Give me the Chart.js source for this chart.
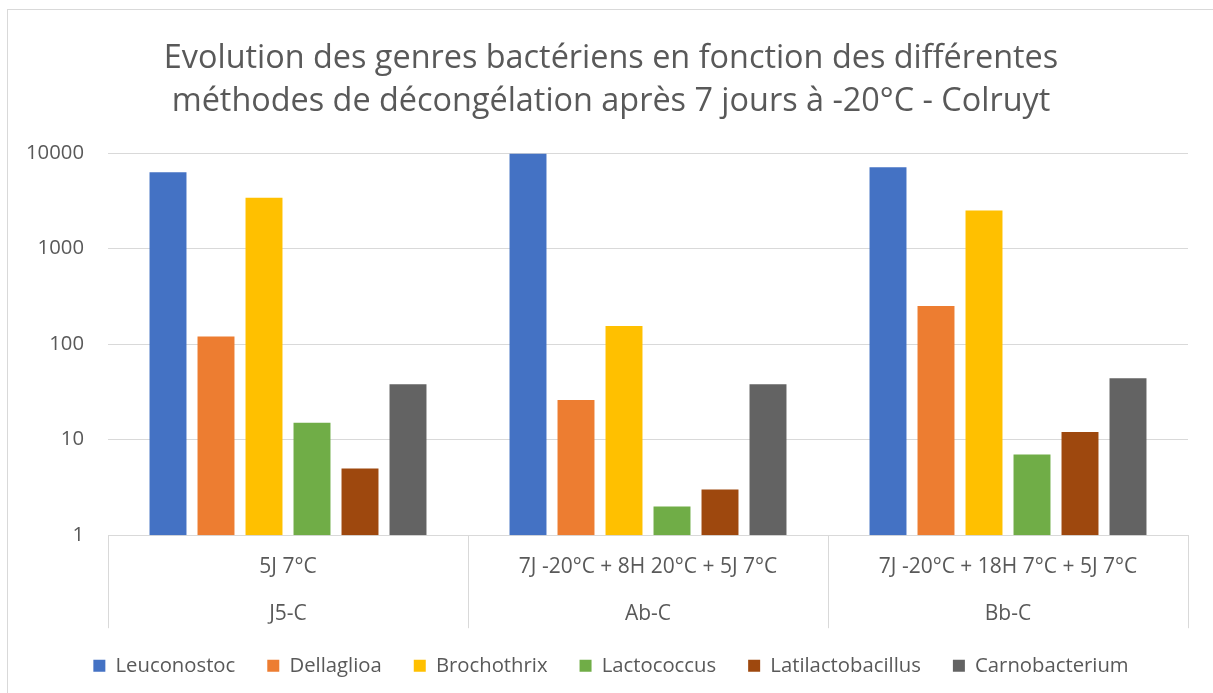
<!DOCTYPE html>
<html>
<head>
<meta charset="utf-8">
<script src="https://cdn.jsdelivr.net/npm/chart.js@4"></script>
<style>
  html, body { margin: 0; padding: 0; background: #fff; overflow: hidden; }
  #frame { position: absolute; left: 7px; top: 9px; width: 1300px; height: 800px;
           border-left: 1px solid #d9d9d9; border-top: 1px solid #d9d9d9; }
  #wrap { position: absolute; left: 0; top: 0; width: 1213px; height: 693px; }
</style>
</head>
<body>
<div id="frame"></div>
<div id="wrap"><canvas id="chart" width="1213" height="693"></canvas></div>
<script>
const TITLE = [
  "Evolution des genres bactériens en fonction des différentes",
  "méthodes de décongélation après 7 jours à -20°C - Colruyt",
];

const METHODS = ["5J 7°C", "7J -20°C + 8H 20°C + 5J 7°C", "7J -20°C + 18H 7°C + 5J 7°C"];
const SAMPLES = ["J5-C", "Ab-C", "Bb-C"];

const Y_TICKS = [1, 10, 100, 1000, 10000];

const GENUS_LABELS = ["Leuconostoc", "Dellaglioa", "Brochothrix", "Lactococcus", "Latilactobacillus", "Carnobacterium"];
const GENUS_COLORS = ["#4472c4", "#ed7d31", "#ffc000", "#70ad47", "#9e480e", "#636363"];

const leuconostoc       = [6300, 9800, 7100];
const dellaglioa        = [120, 26, 250];
const brochothrix       = [3400, 155, 2500];
const lactococcus       = [15, 2, 7];
const latilactobacillus = [5, 3, 12];
const carnobacterium    = [38, 38, 44];

const SERIES = [leuconostoc, dellaglioa, brochothrix, lactococcus, latilactobacillus, carnobacterium];

const TEXT = "#595959";
const GRID = "#d9d9d9";
const FONT = "'Open Sans', sans-serif";

const datasets = SERIES.map((data, i) => ({
  label: GENUS_LABELS[i],
  data,
  backgroundColor: GENUS_COLORS[i],
  borderWidth: 0,
  categoryPercentage: 0.8,
  barPercentage: 0.77,
}));

// two-level category label: method on top, sample name one row below.
// blank rows keep the label box tall enough (labels are clipped to the axis box)
const xLabels = METHODS.map((m, i) => [m, "", SAMPLES[i], "", "", ""]);

new Chart(document.getElementById("chart"), {
  type: "bar",
  data: { labels: xLabels, datasets },
  options: {
    responsive: false,
    animation: false,
    layout: { padding: { left: 17, right: 8, top: 0, bottom: 7 } },
    plugins: {
      title: {
        display: true,
        text: TITLE,
        color: TEXT,
        font: { family: FONT, size: 32.4, weight: "normal", lineHeight: 43 / 32.4 },
        padding: { top: 37, bottom: 30 },
      },
      legend: {
        position: "bottom",
        labels: {
          color: TEXT,
          font: { family: FONT, size: 20.3 },
          boxWidth: 12,
          boxHeight: 12,
          padding: 32,
        },
      },
      tooltip: { enabled: false },
    },
    scales: {
      x: {
        // long tick marks below the axis act as the group separators
        grid: { color: GRID, drawOnChartArea: false, offset: true, tickLength: 93 },
        border: { color: GRID },
        ticks: {
          color: TEXT,
          font: { family: FONT, size: 21, lineHeight: 23.5 / 21 },
          padding: -72.75,
          maxRotation: 0,
          autoSkip: false,
        },
      },
      y: {
        type: "logarithmic",
        min: 1,
        max: 10000,
        afterBuildTicks: axis => { axis.ticks = Y_TICKS.map(v => ({ value: v })); },
        afterFit: axis => { axis.width = 91; },
        grid: { color: GRID, drawTicks: false },
        border: { display: false },
        ticks: {
          color: TEXT,
          font: { family: FONT, size: 20.3 },
          padding: 24,
          callback: v => String(v),
        },
      },
      // empty right-hand strip so the plot ends where the original does
      // while the title and legend stay centred on the frame
      gutter: {
        type: "linear",
        position: "right",
        afterFit: axis => { axis.width = 17; },
        grid: { display: false },
        border: { display: false },
        ticks: { display: false },
      },
    },
  },
});
</script>
</body>
</html>
